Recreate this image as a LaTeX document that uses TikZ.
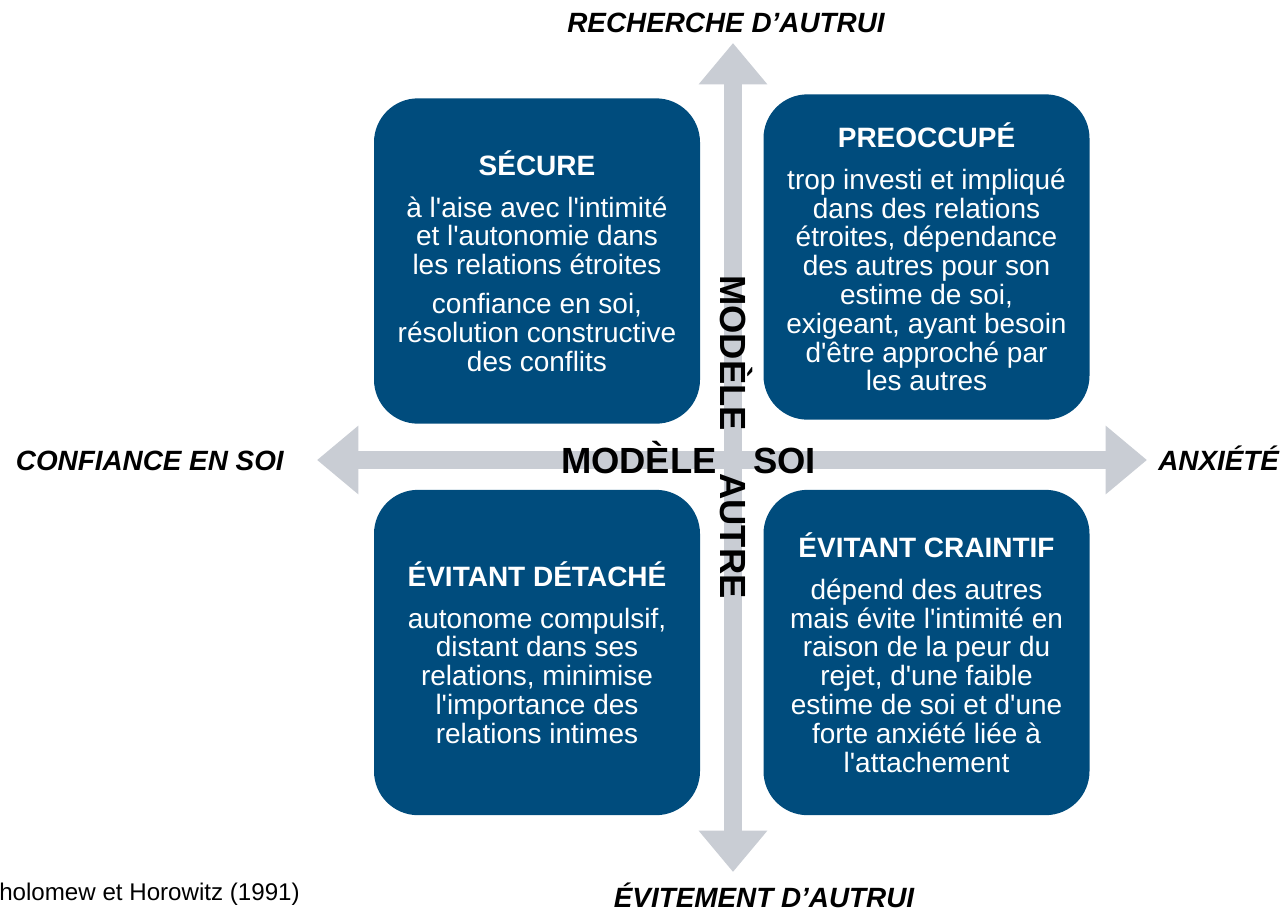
\documentclass[tikz,border=0pt]{standalone}
\usepackage{fontspec}
\setmainfont{Liberation Sans}[Ligatures=TeXOff]
\usetikzlibrary{arrows.meta,positioning}
\definecolor{boxblue}{RGB}{0,76,125}
\definecolor{axisgray}{RGB}{201,205,212}
\tikzset{
	quad/.style={fill=boxblue, rounded corners=33pt, minimum width=244.5pt, minimum height=244pt,
		text=white, align=center, inner sep=0pt, font=\fontsize{21}{21.6}\selectfont},
	axis/.style={draw=axisgray, line width=13.5pt,
		{Triangle[width=49.5pt,length=31pt]}-{Triangle[width=49.5pt,length=31pt]}},
	pole/.style={inner sep=0pt, font=\fontsize{20.9}{24}\selectfont\bfseries\itshape},
	modele/.style={inner sep=0pt, font=\fontsize{27.3}{30}\selectfont\bfseries},
}
\begin{document}
\begin{tikzpicture}[x=0.75pt,y=-0.75pt]
			\useasboundingbox (0,0) rectangle (1282,915);
			
			\coordinate (ouest) at (317,460);
			\coordinate (est) at (1147,460);
			\coordinate (nord) at (733,43);
			\coordinate (sud) at (733,872);
			\draw[axis] (ouest) -- (est);
			\draw[axis] (nord) -- (sud);
			
			\node[quad] (secure) at (537,261) {\textbf{SÉCURE}\\[9.75pt]
				à l'aise avec l'intimité\\ et l'autonomie dans\\ les relations étroites\\[7.5pt]
				confiance en soi,\\ résolution constructive\\ des conflits};
			\node[quad] (preoccupe) at (926.5,257) {\textbf{PREOCCUPÉ}\\[9.75pt]
				trop investi et impliqué\\ dans des relations\\ étroites,  dépendance\\ des autres pour son\\
				estime de soi,\\ exigeant, ayant besoin\\ d'être approché par\\ les autres};
			\node[quad] (detache) at (537,652.5) {\textbf{ÉVITANT DÉTACHÉ}\\[9.75pt]
				autonome compulsif,\\ distant dans ses\\ relations, minimise\\ l'importance des\\ relations intimes};
			\node[quad] (craintif) at (926.5,652.5) {\textbf{ÉVITANT CRAINTIF}\\[9.75pt]
				dépend des autres\\ mais évite l'intimité en\\ raison de la peur du\\ rejet, d'une faible\\
				estime de soi et d'une\\ forte anxiété liée à\\ l'attachement};
			
			\node[modele, anchor=base east] (modsoi) at (717,473) {MODÈLE};
			\node[modele, anchor=base west] (soi) at (753,473) {SOI};
			\node[modele, rotate=-90, anchor=base west] (modautre) at (720,275) {MODÈLE};
			\node[modele, rotate=-90, anchor=base west] (autre) at (720,473) {AUTRE};
			
			\node[pole, anchor=base] (recherche) at (726,32) {RECHERCHE D’AUTRUI};
			\node[pole, anchor=base] (evitement) at (764,907) {ÉVITEMENT D’AUTRUI};
			\node[pole, anchor=base east] (confiance) at (284,470) {CONFIANCE EN SOI};
			\node[pole, anchor=base west] (anxiete) at (1158,470) {ANXIÉTÉ};
			
			\node[inner sep=0pt, anchor=base west, font=\fontsize{18.1}{20}\selectfont] (source) at (-1,900) {holomew et Horowitz (1991)};
\end{tikzpicture}
\end{document}
